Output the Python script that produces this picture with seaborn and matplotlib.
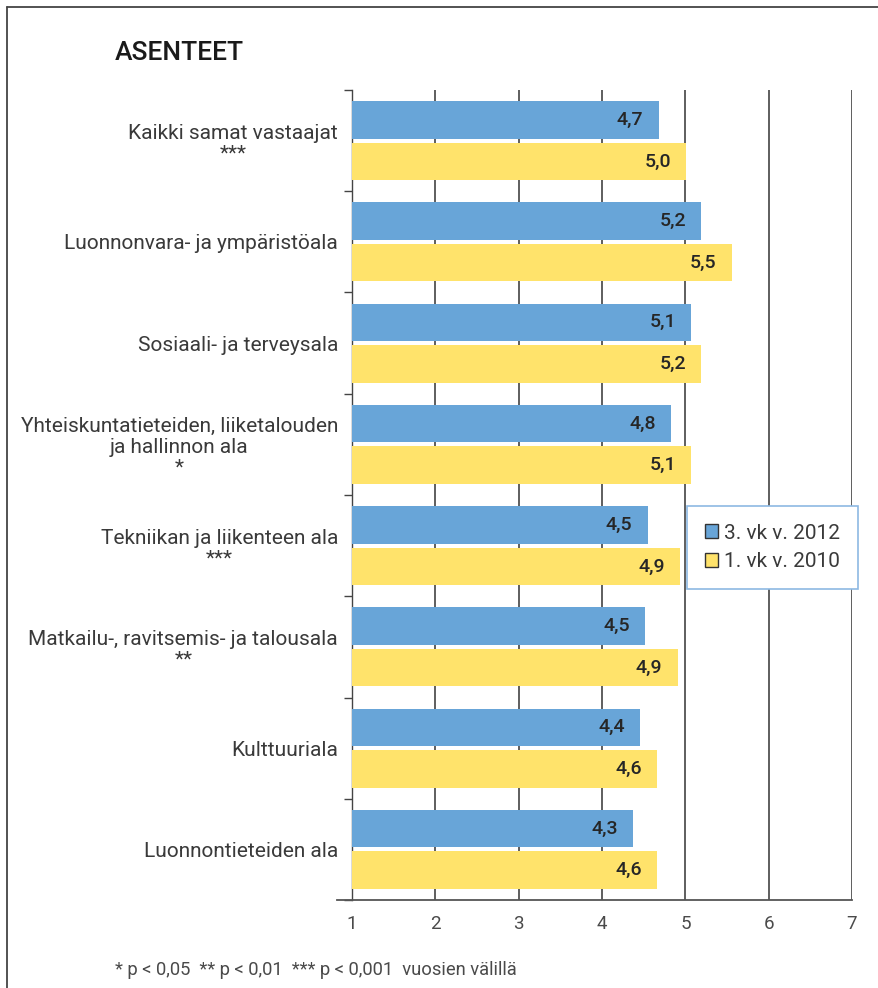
import matplotlib
matplotlib.use("Agg")
import matplotlib.pyplot as plt
from matplotlib.lines import Line2D
from matplotlib.patches import Patch
import seaborn as sns
import pandas as pd
import numpy as np

categories = [
    "Kaikki samat vastaajat\n***",
    "Luonnonvara- ja ympäristöala",
    "Sosiaali- ja terveysala",
    "Yhteiskuntatieteiden, liiketalouden\nja hallinnon ala\n*",
    "Tekniikan ja liikenteen ala\n***",
    "Matkailu-, ravitsemis- ja talousala\n**",
    "Kulttuuriala",
    "Luonnontieteiden ala",
]
series_names = ["3. vk v. 2012", "1. vk v. 2010"]
values_2012 = [4.68, 5.19, 5.07, 4.83, 4.55, 4.52, 4.46, 4.37]
values_2010 = [5.01, 5.56, 5.19, 5.07, 4.94, 4.91, 4.66, 4.66]
labels_2012 = ["4,7", "5,2", "5,1", "4,8", "4,5", "4,5", "4,4", "4,3"]
labels_2010 = ["5,0", "5,5", "5,2", "5,1", "4,9", "4,9", "4,6", "4,6"]
x_ticks = [1, 2, 3, 4, 5, 6, 7]

df = pd.DataFrame({
    "cat": categories * 2,
    "val": values_2012 + values_2010,
    "series": [series_names[0]] * len(categories) + [series_names[1]] * len(categories),
})

sns.set_theme(style="white")
plt.rcParams["font.family"] = ["Roboto", "DejaVu Sans"]

W, H = 879, 988
fig = plt.figure(figsize=(W / 100, H / 100), dpi=100)
ax = fig.add_axes([352 / W, 1 - 900 / H, (852 - 352) / W, (900 - 90) / H])

blue = "#68A5D8"
yellow = "#FFE36B"
sns.barplot(data=df, y="cat", x="val", hue="series", order=categories,
            hue_order=series_names, palette=[blue, yellow], ax=ax,
            width=0.82, gap=0.1, legend=False, saturation=1, zorder=3,
            linewidth=0)

ax.set_xlim(1, 7)
ax.set_ylim(len(categories) - 0.5, -0.5)

# grid lines
for xv in x_ticks[1:]:
    ax.axvline(xv, color="#5e5e5e", lw=1.4, zorder=1)

# value labels
for cont, labs in zip(ax.containers, [labels_2012, labels_2010]):
    for p, lab in zip(cont.patches, labs):
        ax.annotate(lab, (p.get_x() + p.get_width(), p.get_y() + p.get_height() / 2),
                    xytext=(-11, 0), textcoords="offset points", ha="right", va="center",
                    fontsize=14, fontweight=500, color="#262626", zorder=5)

# spines
for s in ["top", "right"]:
    ax.spines[s].set_visible(False)
ax.spines["left"].set_color("#444444")
ax.spines["left"].set_linewidth(1.0)
ax.spines["bottom"].set_color("#555555")
ax.spines["bottom"].set_linewidth(1.3)
ax.spines["bottom"].set_bounds(0.82, 7)

ax.set_xticks(x_ticks)
ax.set_xticklabels([str(t) for t in x_ticks], fontsize=13.5, color="#4a4a4a")
ax.tick_params(axis="x", length=0, pad=11)

ax.set_yticks(range(len(categories)))
ax.set_yticklabels(categories, fontsize=15, color="#3a3a3a",
                   multialignment="center", linespacing=1.1)
ax.tick_params(axis="y", which="major", length=0, pad=10)
ax.set_yticks(np.arange(-0.5, len(categories), 1), minor=True)
ax.tick_params(axis="y", which="minor", length=6, width=1.0, color="#444444", left=True)
ax.set_xlabel("")
ax.set_ylabel("")

# legend
handles = [Patch(facecolor=blue, edgecolor="#333333", lw=1.0),
           Patch(facecolor=yellow, edgecolor="#333333", lw=1.0)]
leg = fig.legend(handles, series_names, loc="upper left",
                 bbox_to_anchor=(687 / W, 1 - 506 / H), fontsize=15,
                 frameon=True, fancybox=False, edgecolor="#8db9e3", framealpha=1,
                 handlelength=0.65, handleheight=0.65, handletextpad=0.3,
                 borderpad=0.85, labelspacing=0.45, borderaxespad=0)
leg.get_frame().set_linewidth(1.2)
leg.set_zorder(10)
for t in leg.get_texts():
    t.set_color("#3a3a3a")

# title and footnote
fig.text(115 / W, 1 - 53 / H, "ASENTEET", fontsize=19, fontweight=500, color="#1a1a1a",
         ha="left", va="center")
fig.text(115 / W, 1 - 970 / H,
         "* p < 0,05  ** p < 0,01  *** p < 0,001  vuosien välillä",
         fontsize=13.2, color="#4a4a4a", ha="left", va="center")

# outer frame
fig.add_artist(Line2D([7 / W, 1], [1 - 7 / H, 1 - 7 / H], color="#444444", lw=1.3))
fig.add_artist(Line2D([7 / W, 7 / W], [1 - 7 / H, 0], color="#444444", lw=1.3))

fig.savefig("out.png", dpi=100)
